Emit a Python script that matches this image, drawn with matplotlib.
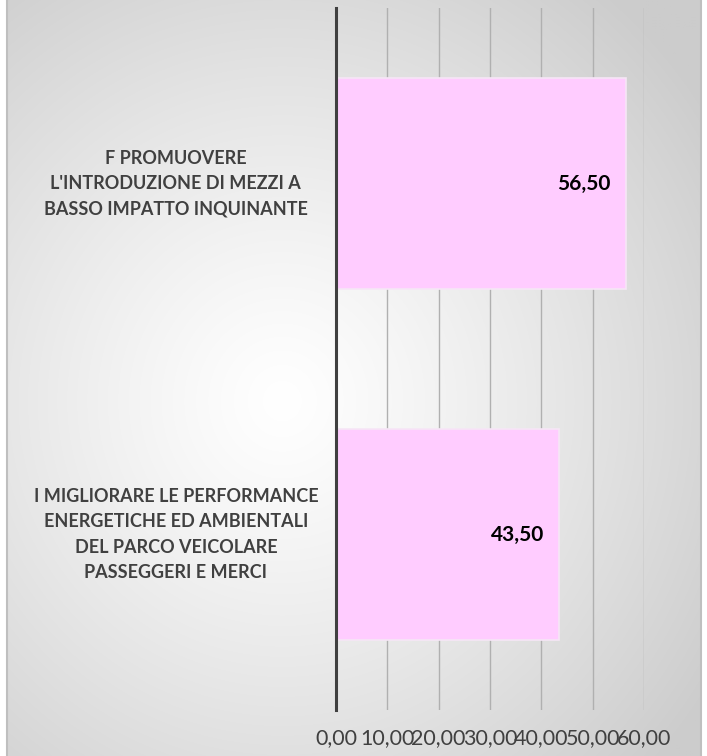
import numpy as np
import matplotlib
matplotlib.use("Agg")
import matplotlib.pyplot as plt
from matplotlib.patches import Rectangle

categories = [
    "F PROMUOVERE\nL'INTRODUZIONE DI MEZZI A\nBASSO IMPATTO INQUINANTE",
    "I MIGLIORARE LE PERFORMANCE\nENERGETICHE ED AMBIENTALI\nDEL PARCO VEICOLARE\nPASSEGGERI E MERCI",
]
values = [56.50, 43.50]
x_ticks = [0, 10, 20, 30, 40, 50, 60]

W, H, DPI = 707, 756, 100
fig = plt.figure(figsize=(W / DPI, H / DPI), dpi=DPI)
fig.patch.set_facecolor("white")

# background: radial gradient inside a grey border
bg = fig.add_axes([0, 0, 1, 1])
bg.set_xlim(0, W)
bg.set_ylim(H, 0)
bg.axis("off")
yy, xx = np.mgrid[0:H, 0:W]
r = np.hypot(xx - 280, yy - 400)
shade = np.clip(1.0 - 0.19 * (r / 500.0) ** 1.2, 0.80, 1.0)
img = np.dstack([shade, shade, shade])
bg.imshow(img, extent=(7, 701, H + 10, -10), aspect="auto", zorder=0, interpolation="bilinear")
bg.set_xlim(0, W)
bg.set_ylim(H, 0)
bg.add_patch(Rectangle((7, -10), 694, H + 20, fill=False, edgecolor="#bfbfbf", linewidth=1.5))

ax = fig.add_axes([336 / W, 1 - 710 / H, (644 - 336) / W, 702 / H])
ax.patch.set_alpha(0)

pos = np.arange(len(values))
ax.barh(pos, values, height=0.6, color="#FFCCFF", edgecolor="#f6e6f6", linewidth=1.2, zorder=3)
ax.set_ylim(1.5, -0.5)
ax.set_xlim(0, 60)

for p, v in zip(pos, values):
    ax.text(v - 3.0, p, f"{v:.2f}".replace(".", ","), ha="right", va="center",
            fontsize=15, fontweight="bold", family="Lato", color="black", zorder=4)

for p, lab in zip(pos, categories):
    ax.text(-0.52, p, lab, transform=ax.get_yaxis_transform(), ha="center", va="center",
            multialignment="center", fontsize=13, fontweight="bold", family="Lato",
            color="#404040", linespacing=1.6)

ax.set_xticks(x_ticks)
ax.set_xticklabels([f"{t:.2f}".replace(".", ",") for t in x_ticks],
                   fontsize=15.5, family="Lato", color="#404040")
ax.set_yticks([])
ax.tick_params(axis="x", length=0, pad=13)
ax.grid(axis="x", color="#b0b0b0", linewidth=1, zorder=1)
for s in ["top", "right", "bottom"]:
    ax.spines[s].set_visible(False)
ax.spines["left"].set_color("#404040")
ax.spines["left"].set_linewidth(2.2)
ax.spines["left"].set_zorder(5)

fig.savefig("out.png", dpi=DPI)
